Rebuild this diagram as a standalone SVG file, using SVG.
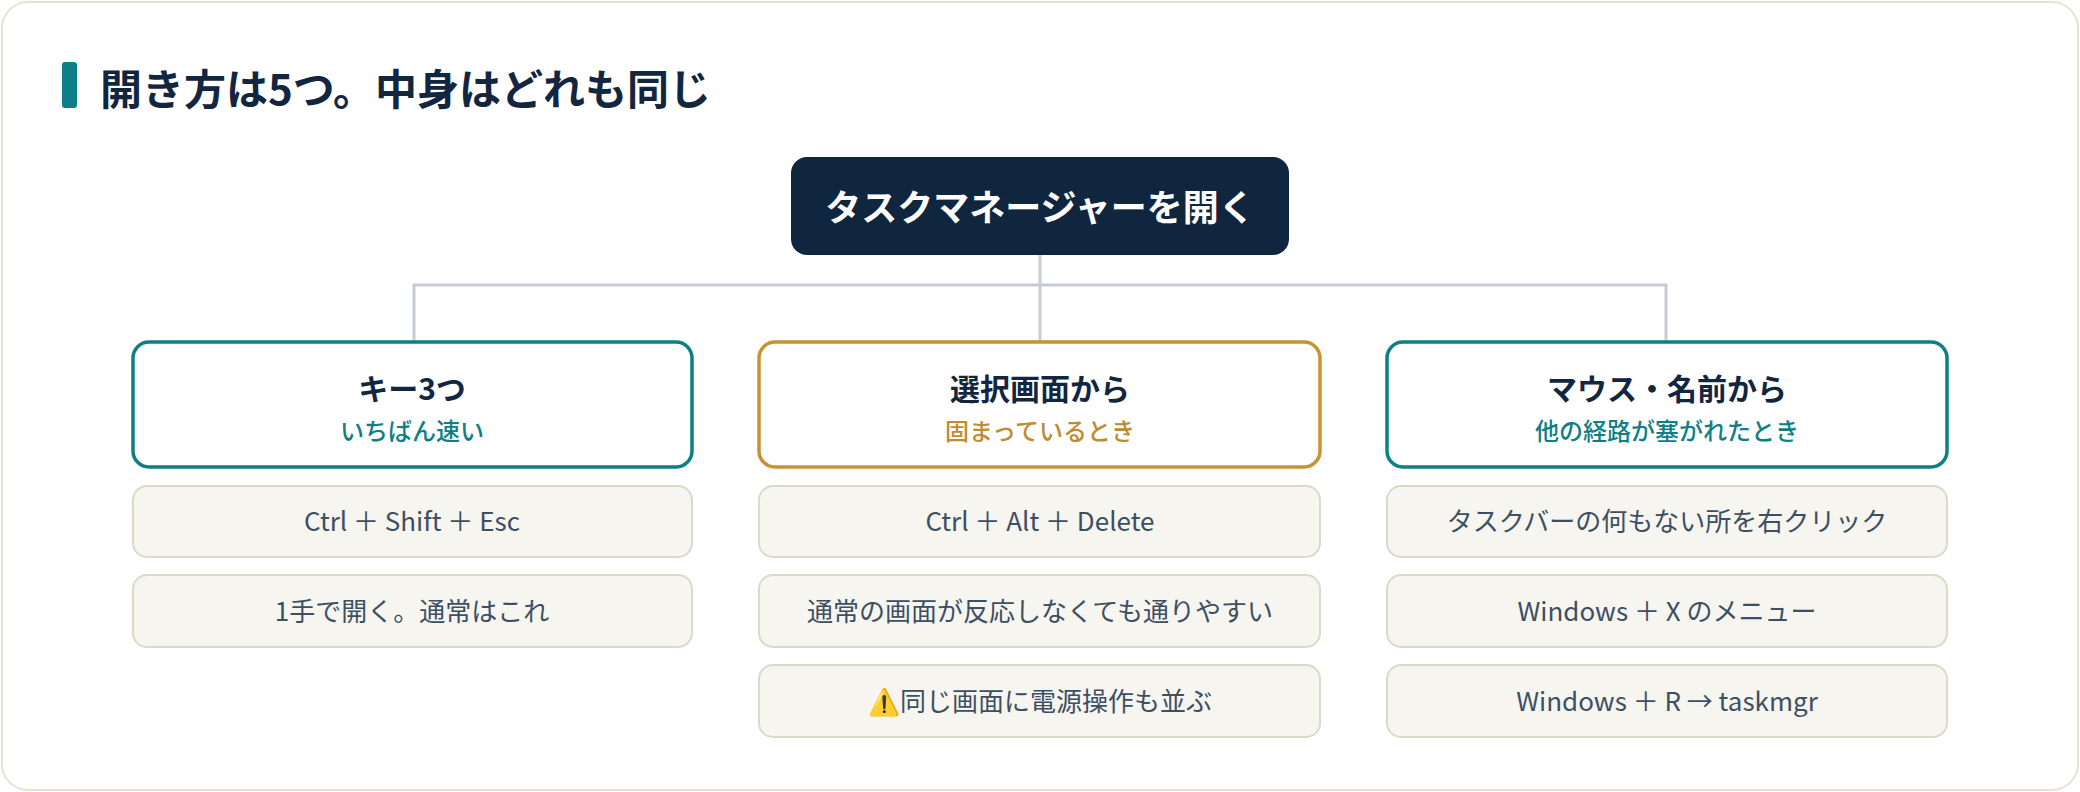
<svg xmlns="http://www.w3.org/2000/svg" width="2080" height="792" viewBox="0 0 2080 792">
<style>
text{font-family:"Noto Sans CJK JP","Noto Sans",sans-serif;text-anchor:middle}
.cat{fill:#fff;stroke-width:3.5}
.teal{stroke:#0e7f86}.gold{stroke:#c89232}
.ct{font-size:30px;font-weight:700;fill:#12263f}
.st{font-size:24px;font-weight:500}
.item rect{fill:#f6f5ef;stroke:#dcd9c6;stroke-width:2}
.item text{font-size:26px;fill:#3d4f63}
</style>
<rect x="2" y="2" width="2076" height="788" rx="26" fill="#fff" stroke="#e6e3d4" stroke-width="2"/>
<rect x="62" y="62" width="15" height="46" rx="3" fill="#0e7f86"/>
<text x="100" y="105" style="text-anchor:start;font-size:42px;font-weight:700;fill:#12263f">開き方は5つ。中身はどれも同じ</text>
<g id="connectors" fill="none" stroke="#c8ccd6" stroke-width="3">
<path d="M1040 255V285M414 342V285H1666V342M1040 285V342"/>
</g>
<g id="root"><rect x="791" y="157" width="498" height="98" rx="16" fill="#10263e"/>
<text x="1040" y="221" style="font-size:36px;font-weight:700;fill:#fff">タスクマネージャーを開く</text></g>
<g id="cat1"><rect class="cat teal" x="133" y="342" width="559" height="125" rx="16"/>
<text class="ct" x="412" y="400">キー3つ</text><text class="st" x="412" y="440" fill="#0e7f86">いちばん速い</text></g>
<g id="cat2"><rect class="cat gold" x="759" y="342" width="561" height="125" rx="16"/>
<text class="ct" x="1040" y="400">選択画面から</text><text class="st" x="1040" y="440" fill="#c08a2e">固まっているとき</text></g>
<g id="cat3"><rect class="cat teal" x="1387" y="342" width="560" height="125" rx="16"/>
<text class="ct" x="1667" y="400">マウス・名前から</text><text class="st" x="1667" y="440" fill="#0e7f86">他の経路が塞がれたとき</text></g>
<g id="i1" class="item"><rect x="133" y="486" width="559" height="71" rx="14"/><text x="412" y="531">Ctrl ＋ Shift ＋ Esc</text></g>
<g id="i2" class="item"><rect x="133" y="575" width="559" height="72" rx="14"/><text x="412" y="621">1手で開く。通常はこれ</text></g>
<g id="i3" class="item"><rect x="759" y="486" width="561" height="71" rx="14"/><text x="1040" y="531">Ctrl ＋ Alt ＋ Delete</text></g>
<g id="i4" class="item"><rect x="759" y="575" width="561" height="72" rx="14"/><text x="1040" y="621">通常の画面が反応しなくても通りやすい</text></g>
<g id="i5" class="item"><rect x="759" y="665" width="561" height="72" rx="14"/><text x="1040" y="711">⚠️同じ画面に電源操作も並ぶ</text></g>
<g id="i6" class="item"><rect x="1387" y="486" width="560" height="71" rx="14"/><text x="1667" y="531">タスクバーの何もない所を右クリック</text></g>
<g id="i7" class="item"><rect x="1387" y="575" width="560" height="72" rx="14"/><text x="1667" y="621">Windows ＋ X のメニュー</text></g>
<g id="i8" class="item"><rect x="1387" y="665" width="560" height="72" rx="14"/><text x="1667" y="711">Windows ＋ R → taskmgr</text></g>
</svg>
